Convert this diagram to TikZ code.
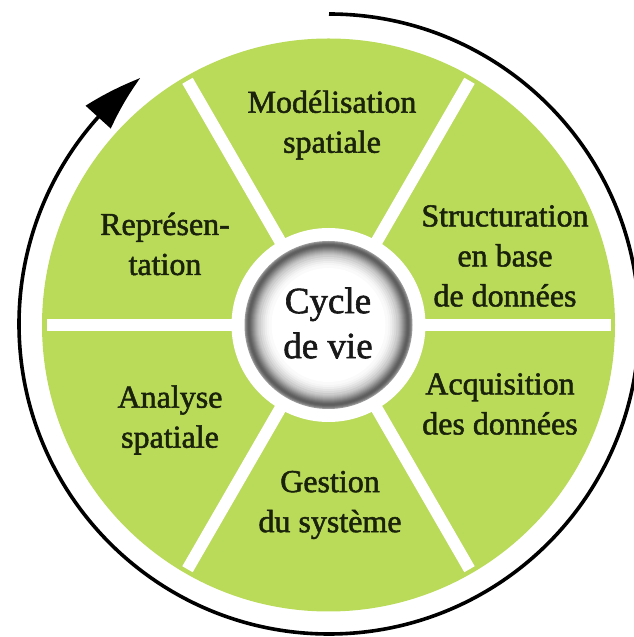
\documentclass[tikz,border=0pt]{standalone}
\usepackage{fontspec}
\setmainfont{Liberation Serif}
\newfontfamily\lblfont{Liberation Serif}[FakeBold=1.6]
\usetikzlibrary{arrows.meta,calc,bending}
\definecolor{lime}{RGB}{186,218,90}
\definecolor{labeltext}{RGB}{26,34,12}
\definecolor{centertext}{RGB}{24,24,24}
\begin{document}
\begin{tikzpicture}[x=1pt,y=1pt,
  seclabel/.style={align=center,font=\lblfont\fontsize{32}{40}\selectfont,text=labeltext},
  centerlabel/.style={align=center,font=\lblfont\fontsize{37}{45}\selectfont,text=centertext},
  spoke/.style={draw=white,line width=12pt},
  cyclearrow/.style={draw=black,line width=3.6pt,-{Triangle[length=58pt,width=33pt,bend]}}]
\useasboundingbox (0,0) rectangle (634,637);
\clip (0,0) rectangle (634,637);
\coordinate (C) at (328.5,312);
\coordinate (A) at (329,313);
% green disk
\fill[lime] (C) circle (286.5);
% spokes
\foreach \a in {0,60,...,300}
  \draw[spoke] ($(C)+(\a:90)$) -- ($(C)+(\a:282)$);
\fill[white] (C) circle (97);
% shaded centre ball
\foreach \r/\g in {84/40,83/50,82/57,81/62,80/63,79/61,78/57,77/52,76/47,75/42,74/37,73/32,72/28,71/24,70/20,68/15,66/11,64/7,62/4,60/2,57/0}
  \fill[black!\g] (C) circle (\r);
% labels
\node[centerlabel] (cycle) at (328,314) {Cycle\\de vie};
\node[seclabel] (mod) at (332,512) {Modélisation\\spatiale};
\node[seclabel] (rep) at (165,393) {Représen-\\tation};
\node[seclabel] (struct) at (505,381) {Structuration\\en base\\de données};
\node[seclabel] (anal) at (170,217) {Analyse\\spatiale};
\node[seclabel] (acq) at (500,233) {Acquisition\\des données};
\node[seclabel] (gest) at (330,132) {Gestion\\du système};
% cycle arrow
\coordinate (arcstart) at ($(A)+(90:310)$);
\draw[cyclearrow] (arcstart) arc[start angle=90,end angle=-232.5,radius=310];
\end{tikzpicture}
\end{document}
